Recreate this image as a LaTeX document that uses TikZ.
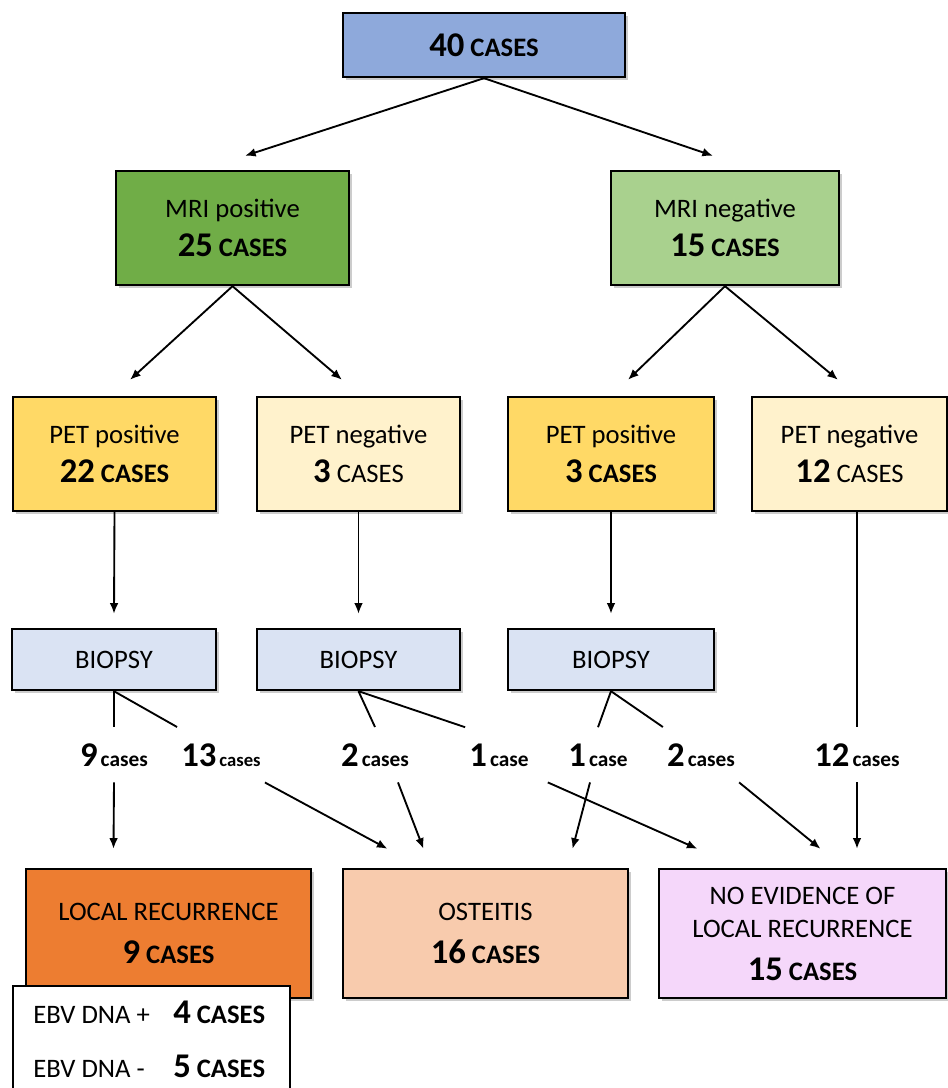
\documentclass[tikz,border=0pt]{standalone}
\usepackage{fontspec}
\setmainfont{Carlito}
\usepackage{xcolor}
\usepackage{tikz}
\usetikzlibrary{arrows.meta,calc,shadows}
\definecolor{topblue}{RGB}{142,169,219}
\definecolor{mrigreen}{RGB}{112,173,71}
\definecolor{mrilight}{RGB}{169,209,142}
\definecolor{petyellow}{RGB}{255,217,102}
\definecolor{petlight}{RGB}{255,242,204}
\definecolor{biopsyblue}{RGB}{218,227,243}
\definecolor{recorange}{RGB}{237,125,49}
\definecolor{ostpeach}{RGB}{248,203,173}
\definecolor{noevpink}{RGB}{245,215,250}

\begin{document}
\begin{tikzpicture}[x=0.75pt,y=0.75pt,yscale=-1,xscale=1,
  box/.style={draw=black, line width=1.8pt, inner sep=0pt, align=center,
    font=\fontsize{20}{25}\selectfont,
    drop shadow={shadow xshift=2pt, shadow yshift=-2pt, opacity=0.4}},
  count/.style={inner xsep=3pt, inner ysep=12pt, anchor=base},
  link/.style={line width=1.4pt},
  arr/.style={link, -{Latex[length=8pt,width=6.5pt]}}
]
\useasboundingbox (0,0) rectangle (948,1088);

%Shape: Top box
\node[box, fill=topblue, minimum width=211.5pt, minimum height=48pt] (total) at (484,45)
  {{\fontsize{26}{31}\selectfont\bfseries 40} \textbf{CASES}};

%Shape: MRI boxes
\node[box, fill=mrigreen, minimum width=174.75pt, minimum height=85.5pt] (mripos) at (232.5,228)
  {MRI positive\\[4pt]{\fontsize{26}{31}\selectfont\bfseries 25} \textbf{CASES}};
\node[box, fill=mrilight, minimum width=171pt, minimum height=85.5pt] (mrineg) at (725,228)
  {MRI negative\\[4pt]{\fontsize{26}{31}\selectfont\bfseries 15} \textbf{CASES}};

%Shape: PET boxes
\node[box, fill=petyellow, minimum width=152.25pt, minimum height=85.5pt] (petposA) at (114.5,454)
  {PET positive\\[4pt]{\fontsize{26}{31}\selectfont\bfseries 22} \textbf{CASES}};
\node[box, fill=petlight, minimum width=152.25pt, minimum height=85.5pt] (petnegA) at (358.5,454)
  {PET negative\\[4pt]{\fontsize{26}{31}\selectfont\bfseries 3} CASES};
\node[box, fill=petyellow, minimum width=154.5pt, minimum height=85.5pt] (petposB) at (611,454)
  {PET positive\\[4pt]{\fontsize{26}{31}\selectfont\bfseries 3} \textbf{CASES}};
\node[box, fill=petlight, minimum width=146.25pt, minimum height=85.5pt] (petnegB) at (849.5,454)
  {PET negative\\[4pt]{\fontsize{26}{31}\selectfont\bfseries 12} CASES};

%Shape: Biopsy boxes
\node[box, fill=biopsyblue, minimum width=153pt, minimum height=45.75pt] (biopA) at (114,659.5) {BIOPSY};
\node[box, fill=biopsyblue, minimum width=152.25pt, minimum height=45.75pt] (biopB) at (358.5,659.5) {BIOPSY};
\node[box, fill=biopsyblue, minimum width=154.5pt, minimum height=45.75pt] (biopC) at (611,659.5) {BIOPSY};

%Shape: Outcome boxes
\node[box, fill=recorange, minimum width=213.75pt, minimum height=96.75pt] (locrec) at (168.5,933.5)
  {LOCAL RECURRENCE\\[7pt]{\fontsize{26}{31}\selectfont\bfseries 9} \textbf{CASES}};
\node[box, fill=ostpeach, minimum width=213.75pt, minimum height=96.75pt] (osteitis) at (485.5,933.5)
  {OSTEITIS\\[7pt]{\fontsize{26}{31}\selectfont\bfseries 16} \textbf{CASES}};
\node[box, fill=noevpink, minimum width=215.25pt, minimum height=96.75pt] (noevid) at (802.5,933.5)
  {NO EVIDENCE OF\\LOCAL RECURRENCE\\[7pt]{\fontsize{26}{31}\selectfont\bfseries 15} \textbf{CASES}};

%Shape: EBV box
\node[draw=black, line width=1.8pt, fill=white, minimum width=207.75pt, minimum height=90pt,
  anchor=north west] (ebv) at (12,985) {};
\node[anchor=base west, inner sep=0pt, font=\fontsize{20}{25}\selectfont] (ebvplus) at (33,1023.5)
  {\makebox[105pt][l]{EBV DNA +}{\fontsize{26}{31}\selectfont\bfseries 4} \textbf{CASES}};
\node[anchor=base west, inner sep=0pt, font=\fontsize{20}{25}\selectfont] (ebvminus) at (33,1077)
  {\makebox[105pt][l]{EBV DNA -}{\fontsize{26}{31}\selectfont\bfseries 5} \textbf{CASES}};

% Text Node
\node[count] (n9) at (114,766) {{\fontsize{26}{31}\selectfont\bfseries 9} {\fontsize{16}{20}\selectfont\bfseries cases}};
\node[count] (n13) at (221,766) {{\fontsize{26}{31}\selectfont\bfseries 13} {\fontsize{14}{18}\selectfont\bfseries cases}};
\node[count] (n2a) at (375,766) {{\fontsize{26}{31}\selectfont\bfseries 2} {\fontsize{16}{20}\selectfont\bfseries cases}};
\node[count] (n1a) at (499,766) {{\fontsize{26}{31}\selectfont\bfseries 1} {\fontsize{16}{20}\selectfont\bfseries case}};
\node[count] (n1b) at (598,766) {{\fontsize{26}{31}\selectfont\bfseries 1} {\fontsize{16}{20}\selectfont\bfseries case}};
\node[count] (n2b) at (701,766) {{\fontsize{26}{31}\selectfont\bfseries 2} {\fontsize{16}{20}\selectfont\bfseries cases}};
\node[count] (n12) at (857,766) {{\fontsize{26}{31}\selectfont\bfseries 12} {\fontsize{16}{20}\selectfont\bfseries cases}};

%Straight Lines: top level
\draw[arr] (total.south) -- ($(mripos.north)+(12.5,-14)$);
\draw[arr] (total.south) -- ($(mrineg.north)+(-12,-14)$);
%Straight Lines: MRI to PET
\draw[arr] (mripos.south) -- ($(petposA.north)+(15.5,-16)$);
\draw[arr] (mripos.south) -- ($(petnegA.north)+(-16.5,-16)$);
\draw[arr] (mrineg.south) -- ($(petposB.north)+(17,-16)$);
\draw[arr] (mrineg.south) -- ($(petnegB.north)+(-11.5,-16)$);
%Straight Lines: PET to biopsy
\draw[arr] (petposA.south) -- ($(biopA.north)+(0,-14)$);
\draw[arr] (petnegA.south) -- ($(biopB.north)+(0,-14)$);
\draw[arr] (petposB.south) -- ($(biopC.north)+(0,-14)$);
\draw[link] ($(petnegB.south)+(7.5,0)$) -- (n12.north);
%Straight Lines: biopsy to counts
\draw[link] (biopA.south) -- (n9.north);
\draw[link] (biopA.south) -- (n13.north west);
\draw[link] (biopB.south) -- (n2a.north);
\draw[link] (biopB.south) -- (n1a.north west);
\draw[link] (biopC.south) -- (n1b.north);
\draw[link] (biopC.south) -- (n2b.north west);
%Straight Lines: counts to outcomes
\draw[arr] (n9.south) -- ($(locrec.north)+(-55,-19)$);
\draw[arr] (n13.south east) -- ($(osteitis.north)+(-98,-19)$);
\draw[arr] ($(n2a.south)+(23,0)$) -- ($(osteitis.north)+(-62,-19)$);
\draw[arr] ($(n1a.south east)+(15,0)$) -- ($(noevid.north)+(-105,-19)$);
\draw[arr] ($(n1b.south)+(-8,0)$) -- ($(osteitis.north)+(87,-19)$);
\draw[arr] (n2b.south east) -- ($(noevid.north)+(18,-19)$);
\draw[arr] (n12.south) -- ($(noevid.north)+(54.5,-19)$);

\end{tikzpicture}
\end{document}
